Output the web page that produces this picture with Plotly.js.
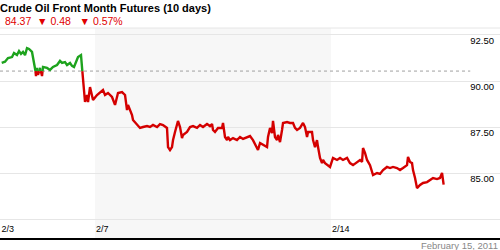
<!DOCTYPE html>
<html>
<head>
<meta charset="utf-8">
<script src="https://cdn.plot.ly/plotly-3.0.1.min.js"></script>
<style>html,body{margin:0;padding:0;background:#fff;}#chart{width:500px;height:250px;}</style>
</head>
<body>
<div id="chart"></div>
<script>
// Trading-day offsets since 2/3 (weekends removed) and prices
const tradingDay = [0.023,0.093,0.157,0.242,0.284,0.347,0.390,0.432,0.475,0.517,0.559,0.602,0.665,0.686,0.729,0.750,0.771,0.792,0.835,0.877,0.898,0.983,1.047,1.110,1.195,1.258,1.301,1.364,1.407,1.470,1.513,1.555,1.597,1.640,1.703,1.725,1.746,1.767,1.788,1.831,1.852,1.894,1.936,1.958,2.042,2.106,2.169,2.212,2.275,2.360,2.424,2.487,2.572,2.636,2.678,2.699,2.742,2.784,2.805,2.890,2.953,3.017,3.102,3.165,3.229,3.314,3.377,3.441,3.525,3.547,3.589,3.631,3.653,3.695,3.737,3.758,3.801,3.843,3.864,3.949,4.013,4.076,4.161,4.225,4.288,4.373,4.436,4.479,4.500,4.542,4.606,4.691,4.712,4.754,4.797,4.818,4.860,4.924,5.008,5.072,5.136,5.220,5.284,5.347,5.432,5.453,5.496,5.559,5.644,5.665,5.708,5.750,5.771,5.813,5.856,5.877,5.919,5.962,5.983,6.068,6.131,6.195,6.237,6.280,6.343,6.407,6.449,6.492,6.513,6.597,6.619,6.661,6.703,6.725,6.767,6.809,6.831,6.873,6.936,6.979,7.042,7.127,7.191,7.254,7.339,7.402,7.466,7.551,7.614,7.657,7.678,7.720,7.763,7.826,7.869,7.890,7.975,8.038,8.102,8.186,8.250,8.314,8.398,8.462,8.525,8.610,8.631,8.674,8.716,8.737,8.780,8.822,8.886,8.949,9.034,9.097,9.161,9.246,9.309,9.352,9.386];
const price = [90.99,91.05,91.25,91.30,91.52,91.41,91.63,91.47,91.58,91.41,91.79,91.74,91.58,91.25,90.76,90.27,90.71,90.33,90.71,90.27,90.76,90.71,90.60,90.76,90.87,91.09,90.98,91.03,90.87,90.98,90.82,90.76,91.03,91.30,91.41,90.76,90.05,89.35,88.86,89.24,88.86,89.67,89.13,88.97,89.24,89.40,89.51,89.24,89.35,89.13,88.70,89.35,89.40,89.24,88.42,88.70,88.42,88.15,87.88,87.61,87.45,87.50,87.55,87.50,87.61,87.50,87.66,87.61,87.45,86.41,86.25,86.41,86.79,87.23,87.61,87.83,87.50,86.90,87.07,87.23,87.50,87.55,87.45,87.61,87.50,87.66,87.55,87.66,87.34,87.23,87.45,87.45,87.72,86.96,86.79,86.96,86.79,86.90,86.79,86.96,86.85,86.96,87.01,86.79,86.41,86.25,86.63,86.52,86.41,86.96,87.45,87.17,87.83,86.96,86.79,87.07,86.68,87.34,87.72,87.77,87.72,87.72,87.45,87.34,87.45,87.72,87.50,86.96,87.23,87.23,86.79,86.41,86.79,86.41,85.82,85.54,85.71,85.54,85.43,85.33,85.82,85.71,85.82,85.71,85.82,85.54,85.43,85.60,85.71,85.60,86.36,86.09,85.71,85.43,85.00,84.89,85.00,84.95,85.16,85.33,85.27,85.33,85.27,85.16,85.27,85.43,85.87,85.60,85.54,85.16,84.73,84.18,84.35,84.46,84.51,84.62,84.73,84.67,84.73,85.00,84.37];
const refPrice = 90.54;           // price at start of the 10-day window
const tickDays = [0, 2, 7];
const tickLabels = ['2/3', '2/7', '2/14'];
const yTickVals = [82.5, 85, 87.5, 90, 92.5];
const yTickText = ['', '85.00', '87.50', '90.00', '92.50'];
const shadedWeek = [2, 7];
const titleText = 'Crude Oil Front Month Futures (10 days)';
const lastText = '84.37', changeText = '0.48', pctText = '0.57%';
const dateText = 'February 15, 2011';

// split the series into above (green) / below (red) pieces at refPrice
function split(xs, ys, thr) {
  const up = {x: [], y: []}, dn = {x: [], y: []};
  for (let i = 0; i < xs.length; i++) {
    const a = ys[i] >= thr;
    const cur = a ? up : dn, oth = a ? dn : up;
    cur.x.push(xs[i]); cur.y.push(ys[i]);
    if (i < xs.length - 1) {
      const b = ys[i + 1] >= thr;
      if (a !== b) {
        const xc = xs[i] + (thr - ys[i]) * (xs[i + 1] - xs[i]) / (ys[i + 1] - ys[i]);
        cur.x.push(xc); cur.y.push(thr);
        cur.x.push(null); cur.y.push(null);
        oth.x.push(xc); oth.y.push(thr);
      }
    }
  }
  return {up, dn};
}
const parts = split(tradingDay, price, refPrice);
const GREEN = '#1ea31e', RED = '#d40000';

const traces = [
  {x: parts.dn.x, y: parts.dn.y, type: 'scatter', mode: 'lines', line: {color: RED, width: 2.4}, connectgaps: false, hoverinfo: 'skip'},
  {x: parts.up.x, y: parts.up.y, type: 'scatter', mode: 'lines', line: {color: GREEN, width: 2.4}, connectgaps: false, hoverinfo: 'skip'}
];

const H = 210, T = 28;
const py = p => (T + H - p) / H;   // pixel row -> paper y for annotations

const layout = {
  width: 500, height: 250,
  margin: {l: 0, r: 0, t: T, b: 12, pad: 0},
  paper_bgcolor: '#ffffff', plot_bgcolor: '#ffffff',
  showlegend: false,
  font: {family: 'Arial, "Liberation Sans", sans-serif', color: '#000'},
  xaxis: {
    range: [-0.013, 10.58], tickvals: tickDays, ticktext: tickLabels,
    ticklabelposition: 'inside right', ticks: '', showgrid: false, zeroline: false,
    showline: true, linecolor: '#000', linewidth: 2,
    tickfont: {size: 9, color: '#000'}, fixedrange: true
  },
  yaxis: {
    side: 'right', range: [81.47, 92.88], tickvals: yTickVals, ticktext: yTickText,
    ticklabelposition: 'inside', ticks: '', showgrid: true, gridcolor: '#e6e6e6', gridwidth: 1,
    zeroline: false, showline: false, ticklabelshift: 6, ticklabelstandoff: 3,
    tickfont: {size: 9.5, color: '#000'}, fixedrange: true
  },
  shapes: [
    {type: 'rect', xref: 'x', yref: 'paper', x0: shadedWeek[0], x1: shadedWeek[1], y0: 0, y1: 1,
     fillcolor: '#f7f7f7', line: {width: 0}, layer: 'below'},
    {type: 'line', xref: 'paper', yref: 'paper', x0: 0, x1: 1, y0: 1, y1: 1,
     line: {color: '#e6e6e6', width: 1}, layer: 'below'},
    {type: 'line', xref: 'x', yref: 'y', x0: -0.013, x1: 9.95, y0: refPrice, y1: refPrice,
     line: {color: '#a0a0a0', width: 1, dash: '3px,3px'}, layer: 'below'}
  ],
  annotations: [
    {xref: 'paper', yref: 'paper', x: 0, y: py(8), xanchor: 'left', yanchor: 'middle', showarrow: false,
     xshift: -1, borderpad: 0, text: '<b>' + titleText + '</b>', font: {size: 11, color: '#000'}},
    {xref: 'paper', yref: 'paper', x: 0, y: py(21), xanchor: 'left', yanchor: 'middle', showarrow: false,
     xshift: 4, borderpad: 0, text: lastText + '  \u25BC ' + changeText + '   \u25BC ' + pctText, font: {size: 10.5, color: '#e00000'}},
    {xref: 'paper', yref: 'paper', x: 1, y: py(245), xanchor: 'right', yanchor: 'middle', showarrow: false,
     xshift: 0, text: dateText, font: {size: 9.5, color: '#888'}}
  ]
};

Plotly.newPlot('chart', traces, layout, {displayModeBar: false, staticPlot: true});
</script>
</body>
</html>
